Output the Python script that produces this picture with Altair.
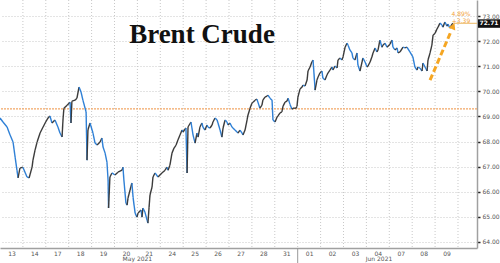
import altair as alt
import pandas as pd

# trading-day position (0 = start of May 13) and price
t = [0.00,0.13,0.31,0.44,0.57,0.66,0.74,0.79,0.87,1.00,1.18,1.27,1.40,1.44,1.53,1.62,1.75,1.97,2.10,2.18,
     2.27,2.40,2.53,2.62,2.71,2.75,2.79,2.93,3.06,3.10,3.14,3.28,3.36,3.45,3.54,3.62,3.76,3.80,3.84,3.93,
     4.06,4.15,4.24,4.37,4.45,4.50,4.59,4.67,4.72,4.74,4.80,4.89,5.02,5.15,5.33,5.37,5.41,5.50,5.55,5.59,
     5.68,5.76,5.81,5.90,5.98,6.03,6.16,6.20,6.24,6.33,6.42,6.46,6.51,6.55,6.64,6.68,6.77,6.90,7.07,7.21,
     7.29,7.34,7.42,7.51,7.60,7.69,7.77,7.86,7.95,7.99,8.12,8.17,8.21,8.34,8.43,8.52,8.60,8.65,8.73,8.82,
     8.86,8.95,9.04,9.08,9.17,9.26,9.30,9.39,9.48,9.52,9.61,9.69,9.74,9.83,9.91,9.96,10.04,10.13,10.17,10.26,
     10.35,10.39,10.48,10.57,10.61,10.70,10.79,10.83,10.92,11.00,11.05,11.14,11.22,11.35,11.44,11.48,11.57,11.66,11.70,11.79,
     11.88,11.92,12.01,12.10,12.14,12.23,12.31,12.36,12.45,12.53,12.58,12.66,12.75,12.79,12.93,12.97,13.01,13.10,13.19,13.23,
     13.32,13.41,13.45,13.54,13.62,13.67,13.71,13.76,13.84,13.89,13.97,14.06,14.10,14.19,14.28,14.32,14.41,14.50,14.54,14.63,
     14.72,14.76,14.85,14.93,14.98,15.07,15.15,15.20,15.28,15.37,15.41,15.50,15.59,15.63,15.72,15.81,15.85,15.94,16.03,16.07,
     16.16,16.24,16.29,16.38,16.46,16.51,16.59,16.68,16.72,16.81,16.90,17.03,17.12,17.16,17.25,17.34,17.38,17.47,17.60,17.69,
     17.77,17.90,18.03,18.12,18.21,18.25,18.34,18.43,18.47,18.56,18.65,18.69,18.78,18.86,18.91,19.00,19.08,19.13,19.21,19.30,
     19.34,19.43,19.52,19.56,19.65,19.74,19.78]
price = [68.94,68.78,68.58,68.26,67.98,67.38,66.86,66.55,66.94,66.98,66.59,66.55,66.98,67.26,67.66,67.98,68.34,68.74,68.94,69.02,
         68.74,68.86,68.58,68.34,68.18,68.86,69.33,69.45,69.57,68.74,69.61,69.65,69.73,70.17,69.97,69.65,69.18,67.26,68.46,68.74,
         68.34,67.94,67.86,67.98,68.14,67.78,67.54,67.18,66.47,65.35,66.59,66.75,66.67,66.78,66.86,66.98,66.47,65.55,65.47,65.75,
         66.07,66.35,65.79,65.15,64.99,65.15,65.27,64.99,65.35,65.19,64.87,64.75,65.39,65.87,66.19,66.59,66.75,66.59,66.75,66.86,
         66.98,66.86,67.06,67.54,67.74,67.86,68.06,68.26,68.46,68.38,68.54,66.75,68.58,68.78,68.26,67.94,68.34,68.18,68.58,68.74,
         68.58,68.46,68.66,68.58,68.54,68.66,68.78,68.94,68.86,68.74,68.46,68.18,68.54,68.86,68.78,68.66,68.74,68.58,68.54,68.46,
         68.38,68.34,68.46,68.34,68.26,68.46,68.86,69.06,69.33,69.53,69.57,69.65,69.69,69.33,69.45,69.65,69.77,69.81,69.85,69.73,
         69.65,68.86,68.78,68.98,69.02,69.14,69.18,69.41,69.57,69.61,69.73,69.49,69.29,69.33,69.33,69.41,69.77,70.09,70.17,70.25,
         70.21,70.45,70.81,70.97,71.17,71.25,70.73,70.05,70.45,70.57,70.73,70.81,70.53,70.45,70.65,70.73,70.85,70.97,70.85,71.01,
         70.93,71.25,71.33,71.25,71.37,71.76,71.92,71.84,71.65,71.53,71.33,71.25,71.53,71.05,70.81,71.17,71.33,71.17,70.97,71.01,
         71.17,71.37,71.53,71.73,71.57,71.65,72.04,71.76,71.84,71.92,71.76,71.88,72.04,71.76,71.65,71.73,71.53,71.57,71.76,71.73,
         71.76,71.57,71.37,70.97,70.85,70.97,70.93,70.81,71.13,70.97,70.81,71.25,71.53,71.84,72.24,72.32,72.48,72.56,72.72,72.64,
         72.56,72.76,72.60,72.68,72.52,72.68,72.71]

day_labels = ["13","14","17","18","19","20","21","24","25","26","27","28","31",
              "01","02","03","04","07","08","09"]
months = ["May 2021", "Jun 2021"]
month_centers = [6.0, 16.55]
y_ticks = [64, 65, 66, 67, 68, 69, 70, 71, 72, 73]
ref_level = 69.30
last_price = 72.71
change_pct = "4.89%"
change_abs = "+3.39"
arrow_t = [18.78, 19.70]
arrow_v = [70.45, 72.40]

X_DOMAIN = [0, 20.83]
Y_DOMAIN = [63.76, 73.64]

W, H = 477, 248

seg = pd.DataFrame({"t": t[:-1], "v": price[:-1], "t2": t[1:], "v2": price[1:]})
seg["dir"] = ["down" if b < a else "up" for a, b in zip(price[:-1], price[1:])]

xs = alt.Scale(domain=X_DOMAIN, nice=False, zero=False)
ys = alt.Scale(domain=Y_DOMAIN, nice=False, zero=False)

label_arr = "[" + ",".join("'%s'" % d for d in day_labels) + "]"
centers = [i + 0.5 for i in range(len(day_labels))]

XA = alt.Axis(
    values=centers,
    labelExpr=label_arr + "[round(datum.value - 0.5)]",
    grid=False, ticks=False, domainColor="#a0a0a0", domainWidth=1.5,
    labelFont="DejaVu Sans", labelFontSize=6, labelColor="#555", labelPadding=2,
    labelOverlap=False, labelFlush=False, labelBound=False, title=None)
YA = alt.Axis(
    orient="right", values=y_ticks, format=".2f", grid=True,
    gridColor="#c8c8c8", gridDash=[1, 2], domainColor="#a0a0a0", domainWidth=1.5,
    tickColor="#222", tickSize=3, tickWidth=1.5,
    labelFont="DejaVu Sans", labelFontSize=6, labelColor="#555", labelPadding=2,
    labelOverlap=False, labelFlush=False, labelBound=False, title=None)


def X(f):
    return alt.X(f, scale=xs, axis=XA)


def Y(f):
    return alt.Y(f, scale=ys, axis=YA)


axes = alt.Chart(pd.DataFrame({"c": centers, "yv": [64] * len(day_labels)})).mark_point(opacity=0).encode(
    x=X("c:Q"), y=Y("yv:Q"))

# vertical day-boundary gridlines
vgrid = alt.Chart(pd.DataFrame({"b": list(range(1, len(day_labels) + 1))})).mark_rule(
    color="#c8c8c8", strokeDash=[1, 2], strokeWidth=1
).encode(x=X("b:Q"))

ref_rule = alt.Chart(pd.DataFrame({"v": [ref_level]})).mark_rule(
    color="#f2a766", strokeDash=[2, 1], strokeWidth=1.2
).encode(y=Y("v:Q"))

lines = alt.Chart(seg).mark_rule(strokeWidth=1.4).encode(
    x=X("t:Q"), x2="t2:Q",
    y=Y("v:Q"), y2="v2:Q",
    color=alt.Color("dir:N", scale=alt.Scale(domain=["up", "down"], range=["#3c3c3c", "#2f80d6"]), legend=None),
)

last_line = alt.Chart(pd.DataFrame({"t": [t[-1]], "t2": [X_DOMAIN[1]], "v": [last_price]})).mark_rule(
    color="#efc47e", strokeWidth=1.2
).encode(x=X("t:Q"), x2="t2:Q", y=Y("v:Q"))

last_box = alt.Chart(pd.DataFrame({"v": [last_price]})).mark_rect(color="#111").encode(
    x=alt.value(W + 1), x2=alt.value(W + 23),
    y=alt.value(19.3), y2=alt.value(27.8))
last_text = alt.Chart(pd.DataFrame({"v": [last_price], "s": ["%.2f" % last_price]})).mark_text(
    color="white", fontSize=6, fontWeight="bold", font="DejaVu Sans", align="center", baseline="middle"
).encode(x=alt.value(W + 12), y=Y("v:Q"), text="s:N")

chg = alt.Chart(pd.DataFrame({"s": [change_pct, change_abs], "yy": [14, 21]})).mark_text(
    color="#f2a33c", fontSize=6, font="DejaVu Sans", align="center", baseline="middle"
).encode(x=alt.value(461), y=alt.Y("yy:Q", scale=None), text="s:N")

arrow_df = pd.DataFrame({"t": [arrow_t[0]], "t2": [arrow_t[1]], "v": [arrow_v[0]], "v2": [arrow_v[1]]})
arrow = alt.Chart(arrow_df).mark_rule(color="#f5a623", strokeWidth=3, strokeDash=[6, 3]).encode(
    x=X("t:Q"), x2="t2:Q", y=Y("v:Q"), y2="v2:Q")
head = alt.Chart(pd.DataFrame({"t": [arrow_t[1] + 0.09], "v": [arrow_v[1] + 0.2]})).mark_point(
    shape="triangle-up", filled=True, color="#f5a623", size=55, angle=24, opacity=1
).encode(x=X("t:Q"), y=Y("v:Q"))

title = alt.Chart(pd.DataFrame({"s": ["Brent Crude"]})).mark_text(
    font="Liberation Serif", fontSize=27, fontWeight="bold", color="#111", align="center", baseline="alphabetic"
).encode(x=alt.value(202), y=alt.value(43), text="s:N")

month_sep = alt.Chart(pd.DataFrame({"b": [13]})).mark_rule(color="#999", strokeWidth=1).encode(
    x=X("b:Q"), y=alt.value(H), y2=alt.value(H + 15))

month_txt = alt.Chart(pd.DataFrame({"m": months, "c": month_centers})).mark_text(
    font="DejaVu Sans", fontSize=6, color="#555", align="center", baseline="middle"
).encode(x=X("c:Q"), y=alt.value(H + 11), text="m:N")

chart = alt.layer(
    axes, vgrid, ref_rule, lines, last_line, arrow, head, last_box, last_text, chg, title, month_sep, month_txt
).properties(
    width=W, height=H,
    autosize=alt.AutoSizeParams(type="none"),
    padding={"left": 0, "top": 0, "right": 23, "bottom": 15},
    background="white",
).configure_view(stroke=None).configure_axis(labelOverlap=False, labelBound=False)

chart.save("out.html", embed_options={"renderer": "svg", "actions": False})
